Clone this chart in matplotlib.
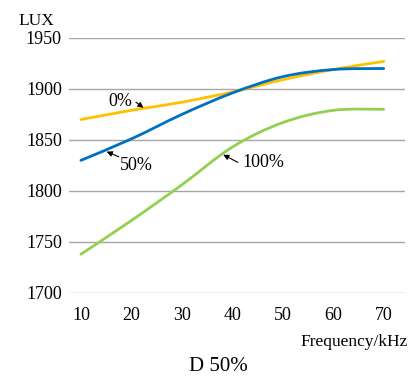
import matplotlib
matplotlib.use('Agg')
from matplotlib import pyplot as plt
from matplotlib.path import Path
from matplotlib.patches import PathPatch

plt.rcParams['font.family'] = ['Liberation Serif', 'DejaVu Serif']

freq = [10, 20, 30, 40, 50, 60, 70]
lux_0 = [1870, 1879, 1887, 1897, 1909, 1919, 1927]
lux_50 = [1830, 1851, 1875, 1896, 1912, 1919, 1920]
lux_100 = [1738, 1771, 1806, 1843, 1867, 1879, 1880]
yticks = [1700, 1750, 1800, 1850, 1900, 1950]


def smooth_path(x, y):
    # catmull-rom through the points, drawn as bezier segments
    verts = [(x[0], y[0])]
    codes = [Path.MOVETO]
    n = len(x)
    for i in range(n - 1):
        x0, y0 = (x[i - 1], y[i - 1]) if i > 0 else (x[i], y[i])
        x3, y3 = (x[i + 2], y[i + 2]) if i + 2 < n else (x[i + 1], y[i + 1])
        x1, y1 = x[i], y[i]
        x2, y2 = x[i + 1], y[i + 1]
        c1 = (x1 + (x2 - x0) / 6, y1 + (y2 - y0) / 6)
        c2 = (x2 - (x3 - x1) / 6, y2 - (y3 - y1) / 6)
        verts += [c1, c2, (x2, y2)]
        codes += [Path.CURVE4] * 3
    return Path(verts, codes)


fig = plt.figure(figsize=(4.17, 3.79), dpi=100)
ax = fig.add_axes([0.165, 0.227, 0.806, 0.673])

for ys, col in [(lux_0, '#FFC000'), (lux_50, '#0070C0'), (lux_100, '#92D050')]:
    ax.add_patch(PathPatch(smooth_path(freq, ys), facecolor='none',
                           edgecolor=col, lw=2.0, capstyle='round'))

ax.set_xlim(7.6, 74.2)
ax.set_ylim(1700, 1950)
ax.set_yticks(yticks)
ax.set_xticks(freq)
ax.yaxis.grid(True, color='#A6A6A6', lw=1)
ax.set_axisbelow(True)
for s in ax.spines.values():
    s.set_visible(False)
ax.tick_params(length=0, labelsize=13)
ax.tick_params(axis='x', pad=10)
ax.tick_params(axis='y', pad=5)

arrow = dict(arrowstyle='-|>', color='black', lw=0.8, mutation_scale=8,
             shrinkA=0, shrinkB=0)
ax.text(17.9, 1888, '0%', fontsize=13, ha='center', va='center')
ax.annotate('', xy=(22.4, 1881.5), xytext=(20.9, 1887), arrowprops=arrow)
ax.text(20.9, 1825, '50%', fontsize=13, ha='center', va='center')
ax.annotate('', xy=(15.1, 1838.5), xytext=(17.5, 1833.5), arrowprops=arrow)
ax.text(46.1, 1828, '100%', fontsize=13, ha='center', va='center')
ax.annotate('', xy=(38.2, 1835.5), xytext=(41.1, 1828), arrowprops=arrow)

fig.text(0.086, 0.945, 'LUX', fontsize=12.5, ha='center', va='center')
fig.text(0.977, 0.098, 'Frequency/kHz', fontsize=12.5, ha='right', va='center')
fig.text(0.523, 0.034, 'D 50%', fontsize=15, ha='center', va='center')

fig.savefig('out.png', dpi=100)
